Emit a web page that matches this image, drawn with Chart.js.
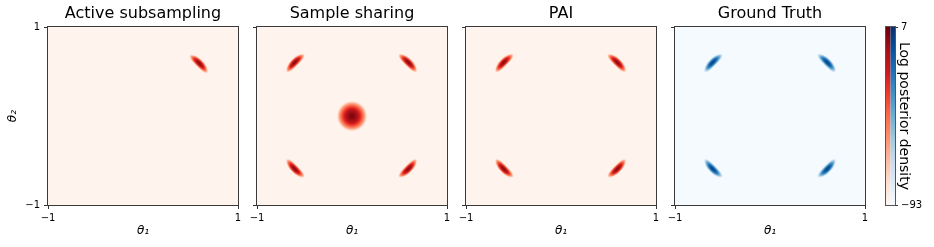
<!DOCTYPE html>
<html>
<head>
<meta charset="utf-8">
<script src="https://cdn.jsdelivr.net/npm/chart.js@4.4.1/dist/chart.umd.min.js"></script>
<style>
  body { margin: 0; background: #fff; width: 934px; height: 247px; overflow: hidden; position: relative; }
  .panel { position: absolute; top: 0; }
</style>
</head>
<body>
<div class="panel" style="left:0px"><canvas id="c0" width="286" height="247"></canvas></div>
<div class="panel" style="left:209px"><canvas id="c1" width="286" height="247"></canvas></div>
<div class="panel" style="left:418px"><canvas id="c2" width="286" height="247"></canvas></div>
<div class="panel" style="left:627px"><canvas id="c3" width="286" height="247"></canvas></div>
<div class="panel" style="left:860px"><canvas id="cb" width="74" height="247"></canvas></div>
<script>
// data
const panelTitles = ['Active subsampling', 'Sample sharing', 'PAI', 'Ground Truth'];
const thetaTicks = [-1, 1];
const colorbarTicks = [7, -93];
const colorbarMin = -93, colorbarMax = 7;

const activeModesX = [0.59];
const activeModesY = [0.59];
const sharingModesX = [-0.6, 0.59, -0.6, 0.59];
const sharingModesY = [0.6, 0.6, -0.59, -0.59];
const sharingCentreX = [0];
const sharingCentreY = [0];
const paiModesX = [-0.6, 0.59, -0.6, 0.59];
const paiModesY = [0.6, 0.6, -0.59, -0.59];
const truthModesX = [-0.6, 0.6, -0.6, 0.6];
const truthModesY = [0.6, 0.6, -0.59, -0.59];

// matplotlib Reds / Blues
const REDS = ['#fff5f0','#fee0d2','#fcbba1','#fc9272','#fb6a4a','#ef3b2c','#cb181d','#a50f15','#67000d'];
const BLUES = ['#f7fbff','#deebf7','#c6dbef','#9ecae1','#6baed6','#4292c6','#2171b5','#08519c','#08306b'];

Chart.defaults.font.family = '"DejaVu Sans", sans-serif';
Chart.defaults.color = '#000';
Chart.defaults.animation = false;

function hexToRgb(h) {
  return [parseInt(h.slice(1, 3), 16), parseInt(h.slice(3, 5), 16), parseInt(h.slice(5, 7), 16)];
}
function cmap(stops, t) {
  t = Math.min(1, Math.max(0, t));
  const f = t * (stops.length - 1);
  const i = Math.min(stops.length - 2, Math.floor(f));
  const u = f - i;
  const a = hexToRgb(stops[i]), b = hexToRgb(stops[i + 1]);
  return a.map((v, k) => Math.round(v + (b[k] - v) * u));
}
function rgbStr(c) { return 'rgb(' + c.join(',') + ')'; }

// point image: log density is quadratic, so colour index falls off with r^2
function blobImage(stops, halfLen, halfWid, bend, peak) {
  const size = Math.ceil(2 * Math.max(halfLen, halfWid) + 6);
  const c = document.createElement('canvas');
  c.width = c.height = size;
  const g = c.getContext('2d');
  const img = g.createImageData(size, size);
  for (let py = 0; py < size; py++) {
    for (let px = 0; px < size; px++) {
      const x = px + 0.5 - size / 2, y = py + 0.5 - size / 2;
      const yc = bend * (Math.pow(x / halfLen, 2) - 0.4);
      const r2 = Math.pow(x / halfLen, 2) + Math.pow((y - yc) / halfWid, 2);
      const t = 1 - r2;
      if (t <= 0) continue;
      const col = cmap(stops, t * peak);
      const k = (py * size + px) * 4;
      img.data[k] = col[0]; img.data[k + 1] = col[1]; img.data[k + 2] = col[2];
      img.data[k + 3] = Math.round(255 * Math.min(1, t * 5));
    }
  }
  g.putImageData(img, 0, 0);
  return c;
}

const redCrescent = blobImage(REDS, 13, 4.1, 1.2, 0.93);
const blueCrescent = blobImage(BLUES, 13, 4.0, 1.2, 0.93);
const redRound = blobImage(REDS, 15.5, 15.5, 0, 0.95);

const framePlugin = {
  id: 'frame',
  beforeDatasetsDraw(chart, args, opts) {
    const { ctx, chartArea: a } = chart;
    ctx.save();
    ctx.fillStyle = opts.background;
    ctx.fillRect(a.left, a.top, a.width, a.height);
    ctx.restore();
  },
  afterDraw(chart) {
    const { ctx, chartArea: a } = chart;
    ctx.save();
    ctx.strokeStyle = '#3a3a3a';
    ctx.lineWidth = 1;
    ctx.strokeRect(Math.round(a.left) - 0.5, Math.round(a.top) - 0.5, Math.round(a.width) + 1, Math.round(a.height) + 1);
    ctx.restore();
  }
};

function toPoints(xs, ys) { return xs.map((x, i) => ({ x: x, y: ys[i] })); }
function fmt(v) { return String(v).replace('-', '\u2212'); }
function tangentAngle(ctx) {
  const p = ctx.raw;
  return p ? Math.atan2(p.x, p.y) * 180 / Math.PI : 0;
}

function makePanel(id, idx, datasets, background, showY) {
  new Chart(document.getElementById(id), {
    type: 'scatter',
    data: { datasets: datasets },
    plugins: [framePlugin],
    options: {
      responsive: false,
      layout: { padding: 0 },
      plugins: {
        legend: { display: false },
        tooltip: { enabled: false },
        frame: { background: background },
        title: {
          display: true,
          text: panelTitles[idx],
          font: { size: 16, weight: 'normal' },
          color: '#000',
          padding: { top: 4, bottom: 4 }
        }
      },
      scales: {
        x: {
          type: 'linear', min: -1, max: 1,
          afterBuildTicks: (s) => { s.ticks = thetaTicks.map(v => ({ value: v })); },
          afterFit: (s) => { s.height = 42; },
          ticks: { font: { size: 10 }, padding: 3, maxRotation: 0, callback: fmt },
          grid: { drawOnChartArea: false, tickLength: 4, color: '#333' },
          border: { display: false },
          title: { display: true, text: 'θ\u2081', font: { size: 12, style: 'italic' }, padding: { top: 0, bottom: 9 } }
        },
        y: {
          type: 'linear', min: -1, max: 1,
          afterBuildTicks: (s) => { s.ticks = thetaTicks.map(v => ({ value: v })); },
          afterFit: (s) => { s.width = 48; },
          ticks: { font: { size: 10 }, padding: 4, callback: fmt, color: showY ? '#000' : 'rgba(0,0,0,0)' },
          grid: { drawOnChartArea: false, tickLength: 4, color: '#333' },
          border: { display: false },
          title: { display: showY, text: 'θ\u2082', font: { size: 12, style: 'italic' }, padding: { top: 6, bottom: 0 } }
        },
        // empty right axis, keeps the title centred over the plot
        yPad: {
          type: 'linear', position: 'right', min: -1, max: 1,
          afterFit: (s) => { s.width = 48; },
          ticks: { display: false },
          grid: { display: false },
          border: { display: false }
        }
      }
    }
  });
}

function modeSet(xs, ys, image, rotate) {
  return {
    data: toPoints(xs, ys),
    pointStyle: image,
    rotation: rotate ? tangentAngle : 0,
    pointRadius: 5,
    showLine: false
  };
}

const redBg = rgbStr(cmap(REDS, 0.012));
const blueBg = rgbStr(cmap(BLUES, 0.01));

makePanel('c0', 0, [modeSet(activeModesX, activeModesY, redCrescent, true)], redBg, true);
makePanel('c1', 1, [
  modeSet(sharingModesX, sharingModesY, redCrescent, true),
  modeSet(sharingCentreX, sharingCentreY, redRound, false)
], redBg, false);
makePanel('c2', 2, [modeSet(paiModesX, paiModesY, redCrescent, true)], redBg, false);
makePanel('c3', 3, [modeSet(truthModesX, truthModesY, blueCrescent, true)], blueBg, false);

// colour bar: two strips (Reds | Blues) sharing one log-density axis
const colorbarPlugin = {
  id: 'colorbar',
  beforeDatasetsDraw(chart) {
    const { ctx, chartArea: a } = chart;
    const half = a.width / 2;
    [REDS, BLUES].forEach((stops, k) => {
      const grad = ctx.createLinearGradient(0, a.bottom, 0, a.top);
      stops.forEach((c, i) => grad.addColorStop(i / (stops.length - 1), c));
      ctx.fillStyle = grad;
      ctx.fillRect(a.left + k * half, a.top, half, a.height);
    });
  },
  afterDraw(chart) {
    const { ctx, chartArea: a } = chart;
    ctx.save();
    ctx.strokeStyle = '#555';
    ctx.lineWidth = 1;
    ctx.strokeRect(Math.round(a.left) - 0.5, Math.round(a.top) - 0.5, Math.round(a.width) + 1, Math.round(a.height) + 1);
    ctx.restore();
  }
};

new Chart(document.getElementById('cb'), {
  type: 'scatter',
  data: { datasets: [{ data: [] }] },
  plugins: [colorbarPlugin],
  options: {
    responsive: false,
    layout: { padding: { left: 26, right: 0, top: 27, bottom: 42 } },
    plugins: { legend: { display: false }, tooltip: { enabled: false } },
    scales: {
      x: { display: false, min: 0, max: 1 },
      y: {
        position: 'right',
        min: colorbarMin, max: colorbarMax,
        afterBuildTicks: (s) => { s.ticks = colorbarTicks.map(v => ({ value: v })); },
        afterFit: (s) => { s.width = 39; },
        ticks: { font: { size: 10 }, padding: 3, callback: fmt },
        grid: { drawOnChartArea: false, tickLength: 3, color: '#333' },
        border: { display: false },
        title: { display: true, text: 'Log posterior density', font: { size: 14 }, padding: { top: 22, bottom: 0 } }
      }
    }
  }
});
</script>
</body>
</html>
